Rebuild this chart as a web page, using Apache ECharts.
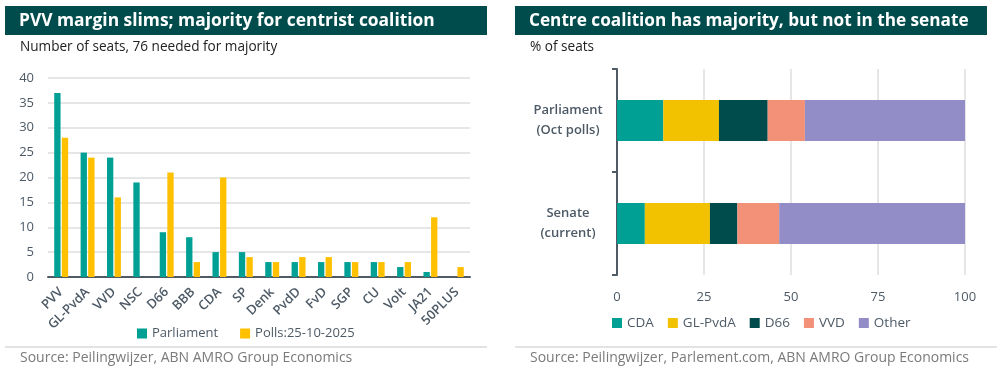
<!DOCTYPE html>
<html>
<head>
<meta charset="utf-8">
<script src="https://cdn.jsdelivr.net/npm/echarts@6/dist/echarts.min.js"></script>
<style>
  html, body { margin: 0; padding: 0; background: #fff; }
  #main { width: 1000px; height: 377px; }
</style>
</head>
<body>
<div id="main"></div>
<script>
// left chart: seats per party
const parties = ['PVV', 'GL-PvdA', 'VVD', 'NSC', 'D66', 'BBB', 'CDA', 'SP', 'Denk', 'PvdD', 'FvD', 'SGP', 'CU', 'Volt', 'JA21', '50PLUS'];
const parliamentSeats = [37, 25, 24, 19, 9, 8, 5, 5, 3, 3, 3, 3, 3, 2, 1, 0];
const pollSeats = [28, 24, 16, 0, 21, 3, 20, 4, 3, 4, 4, 3, 3, 3, 12, 2];

// right chart: % of seats
const houses = ['Parliament\n(Oct polls)', 'Senate\n(current)'];
const cdaShare = [13.3, 8.0];
const glpvdaShare = [16.0, 18.7];
const d66Share = [14.0, 7.9];
const vvdShare = [10.7, 12.0];
const otherShare = [46.0, 53.4];

const FONT = '"Open Sans"';
const AXIS_TXT = '#4d5a66';
const AXIS_LINE = '#505a64';
const GRID = '#dedede';
const DARK = '#004c4c';

const chart = echarts.init(document.getElementById('main'), null, { renderer: 'canvas' });

function txt(x, y, text, size, color, weight) {
  return {
    type: 'text', x: x, y: y,
    style: { text: text, fill: color, fontSize: size, fontFamily: FONT, fontWeight: weight || 'normal', verticalAlign: 'middle' }
  };
}

const stack = (name, data, color) => ({
  name: name, type: 'bar', stack: 'all', xAxisIndex: 1, yAxisIndex: 1,
  barWidth: '40%', itemStyle: { color: color }, data: data
});

const option = {
  animation: false,
  textStyle: { fontFamily: FONT },
  graphic: [
    { type: 'rect', shape: { x: 5, y: 6, width: 482, height: 29 }, style: { fill: DARK } },
    { type: 'rect', shape: { x: 515, y: 6, width: 472, height: 29 }, style: { fill: DARK } },
    txt(19, 21, 'PVV margin slims; majority for centrist coalition', 17.4, '#fff', 'bold'),
    txt(529, 21, 'Centre coalition has majority, but not in the senate', 17.2, '#fff', 'bold'),
    txt(20, 47, 'Number of seats, 76 needed for majority', 13.6, '#222'),
    txt(530, 47, '% of seats', 13.6, '#222'),
    { type: 'rect', shape: { x: 5, y: 346.5, width: 482, height: 1 }, style: { fill: '#c8c8c8' } },
    { type: 'rect', shape: { x: 515, y: 346.5, width: 482, height: 1 }, style: { fill: '#c8c8c8' } },
    txt(20, 358, 'Source: Peilingwijzer, ABN AMRO Group Economics', 14, '#7a7a7a'),
    txt(530, 358, 'Source: Peilingwijzer, Parlement.com, ABN AMRO Group Economics', 14, '#7a7a7a')
  ],
  legend: [
    {
      data: ['Parliament', 'Polls:25-10-2025'],
      left: 132, top: 322, icon: 'rect', itemWidth: 10, itemHeight: 10, itemGap: 22,
      textStyle: { color: AXIS_TXT, fontSize: 13, fontFamily: FONT }
    },
    {
      data: ['CDA', 'GL-PvdA', 'D66', 'VVD', 'Other'],
      left: 607, top: 311, icon: 'rect', itemWidth: 10, itemHeight: 10, itemGap: 14,
      textStyle: { color: AXIS_TXT, fontSize: 13.5, fontFamily: FONT }
    }
  ],
  grid: [
    { left: 48, right: 530, top: 78, bottom: 100 },
    { left: 617, right: 35, top: 69, bottom: 102 }
  ],
  xAxis: [
    {
      type: 'category', gridIndex: 0, data: parties,
      axisLine: { lineStyle: { color: AXIS_LINE, width: 2 } },
      axisTick: { length: 5, lineStyle: { color: AXIS_LINE, width: 2 } },
      axisLabel: { rotate: 45, interval: 0, margin: 13, color: AXIS_TXT, fontSize: 13, fontWeight: 600, fontFamily: FONT }
    },
    {
      type: 'value', gridIndex: 1, min: 0, max: 100, interval: 25,
      axisLine: { show: false }, axisTick: { show: false },
      splitLine: { lineStyle: { color: GRID, width: 1.5 } },
      axisLabel: { margin: 16, color: AXIS_TXT, fontSize: 13, fontFamily: FONT }
    }
  ],
  yAxis: [
    {
      type: 'value', gridIndex: 0, min: 0, max: 40, interval: 5,
      axisLine: { show: false }, axisTick: { show: false },
      splitLine: { lineStyle: { color: GRID, width: 1.5 } },
      axisLabel: { margin: 14, color: AXIS_TXT, fontSize: 13, fontFamily: FONT }
    },
    {
      type: 'category', gridIndex: 1, data: houses, inverse: true,
      axisLine: { show: true, lineStyle: { color: AXIS_LINE, width: 2 } },
      axisTick: { show: true, length: 5, lineStyle: { color: AXIS_LINE, width: 2 } },
      axisLabel: { margin: 49, align: 'center', color: AXIS_TXT, fontSize: 13, fontWeight: 600, lineHeight: 20, fontFamily: FONT }
    }
  ],
  series: [
    { name: 'Parliament', type: 'bar', xAxisIndex: 0, yAxisIndex: 0, barWidth: '24%', barGap: '20%', itemStyle: { color: '#00a095' }, data: parliamentSeats },
    { name: 'Polls:25-10-2025', type: 'bar', xAxisIndex: 0, yAxisIndex: 0, barWidth: '24%', barGap: '20%', itemStyle: { color: '#ffc000' }, data: pollSeats },
    stack('CDA', cdaShare, '#00a095'),
    stack('GL-PvdA', glpvdaShare, '#f2c100'),
    stack('D66', d66Share, '#004c4c'),
    stack('VVD', vvdShare, '#f29078'),
    stack('Other', otherShare, '#928cc7')
  ]
};

chart.setOption(option);
</script>
</body>
</html>
